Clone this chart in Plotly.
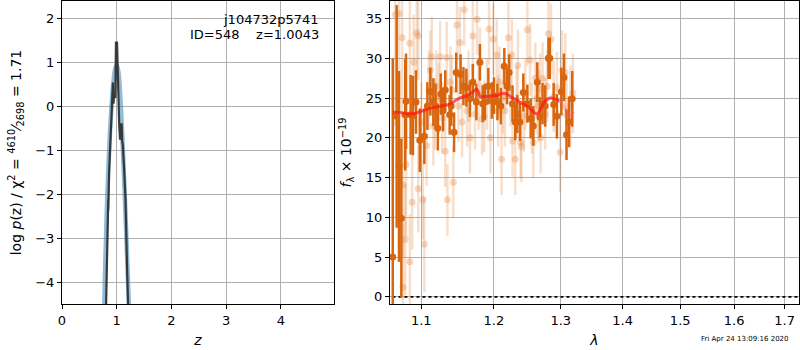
import plotly.graph_objects as go

# ---- Left panel: log p(z) ----
z_smooth = [0.76, 0.79, 0.82, 0.85, 0.88, 0.91, 0.94, 0.97, 1.00, 1.03, 1.06, 1.09, 1.12, 1.15, 1.18, 1.21, 1.24, 1.26]
logp_smooth = [-5.2, -3.6, -2.3, -1.3, -0.5, 0.1, 0.55, 0.85, 0.95, 0.8, 0.35, -0.35, -1.2, -2.1, -3.1, -4.1, -5.0, -5.8]

z_fine = [0.79, 0.800, 0.830, 0.845, 0.846, 0.860, 0.880, 0.895, 0.913, 0.930, 0.940, 0.955, 0.975, 0.986, 0.995, 1.005, 1.015, 1.030, 1.045, 1.060, 1.075, 1.090, 1.100, 1.110, 1.135, 1.160, 1.190, 1.210, 1.225]
logp_fine = [-5.5, -4.6, -3.0, -2.1, -2.35, -1.5, -1.0, -0.7, 0.05, 0.55, 0.07, 0.3, 0.2, 1.48, 1.0, 1.48, 0.7, 0.3, -0.4, -0.75, -0.4, -0.4, -0.8, -0.85, -1.4, -2.1, -3.7, -4.6, -5.3]

# ---- Right panel: spectrum ----
wave_a = [1.063, 1.068, 1.071, 1.074, 1.079, 1.080, 1.086, 1.089, 1.093, 1.098, 1.104, 1.108, 1.112, 1.116,
          1.119, 1.122, 1.126, 1.129, 1.132, 1.138, 1.140, 1.144, 1.147, 1.153, 1.157, 1.161, 1.166, 1.170,
          1.175, 1.180, 1.184, 1.187, 1.192, 1.197, 1.200, 1.205, 1.210, 1.215, 1.219, 1.222, 1.227, 1.231,
          1.234, 1.238, 1.243, 1.249, 1.254, 1.258, 1.264, 1.268, 1.272, 1.276, 1.281, 1.283, 1.289, 1.294,
          1.301, 1.305, 1.309, 1.313, 1.318]
flux_a = [5.0, 22.7, 16.4, 9.9, 22.9, 24.6, 22.9, 22.8, 24.5, 19.7, 20.2, 24.0, 25.8, 24.5,
          24.0, 21.2, 25.5, 23.4, 26.0, 22.9, 24.0, 20.7, 28.2, 28.0, 26.5, 26.3, 24.9, 27.0,
          24.5, 29.5, 24.3, 24.5, 26.5, 24.7, 25.3, 24.5, 24.0, 29.0, 26.5, 28.2, 24.3, 22.0,
          23.0, 22.0, 25.7, 24.3, 22.4, 21.5, 27.0, 22.6, 24.3, 24.0, 30.0, 30.0, 24.2, 22.7,
          25.8, 27.6, 20.4, 22.0, 24.9]
err_a = [25, 14, 12, 10, 7, 6, 5, 5, 4, 4, 3.5, 3, 3, 3,
         2.8, 2.8, 2.6, 2.6, 2.5, 2.5, 2.5, 2.5, 2.5, 2.5, 2.4, 2.4, 2.3, 2.3,
         2.3, 2.3, 2.3, 2.3, 2.3, 2.3, 2.3, 2.3, 2.3, 2.3, 2.3, 2.3, 2.3, 2.3,
         2.4, 2.4, 2.4, 2.4, 2.5, 2.5, 2.5, 2.5, 2.6, 2.6, 2.6, 2.6, 2.7, 2.8,
         3.0, 3.0, 3.2, 3.2, 3.5]

wave_b = [1.066, 1.071, 1.075, 1.076, 1.076, 1.079, 1.080, 1.085, 1.085, 1.088, 1.090, 1.094, 1.096, 1.096,
          1.100, 1.102, 1.104, 1.107, 1.110, 1.112, 1.114, 1.116, 1.118, 1.120, 1.123, 1.125, 1.128, 1.132,
          1.134, 1.135, 1.139, 1.141, 1.143, 1.148, 1.150, 1.152, 1.155, 1.158, 1.162, 1.164, 1.166, 1.170,
          1.173, 1.176, 1.178, 1.180, 1.183, 1.186, 1.190, 1.193, 1.195, 1.199, 1.204, 1.206, 1.208, 1.211,
          1.213, 1.216, 1.221, 1.224, 1.226, 1.227, 1.231, 1.233, 1.235, 1.239, 1.240, 1.244, 1.246, 1.249,
          1.253, 1.256, 1.258, 1.261, 1.263, 1.266, 1.268, 1.269, 1.272, 1.276, 1.279, 1.281, 1.285, 1.289,
          1.294, 1.299, 1.302, 1.307, 1.309, 1.315, 1.319]
flux_b = [35.5, 35.6, 32.6, 14.1, 1.2, 7.2, 16.6, 4.4, 31.9, 11.9, 29.5, 33.2, 32.8, 13.6,
          22.0, 12.2, 6.6, 19.0, 26.0, 28.5, 30.2, 21.5, 23.0, 26.5, 25.0, 30.2, 22.5, 18.3,
          30.1, 12.2, 27.0, 26.0, 14.4, 34.2, 24.0, 32.0, 22.0, 36.1, 23.4, 26.5, 20.0, 32.8,
          23.0, 34.9, 25.5, 29.4, 22.3, 22.7, 25.5, 33.7, 20.0, 32.4, 30.4, 23.4, 27.0, 17.3,
          25.0, 23.4, 32.6, 26.0, 30.4, 19.6, 17.3, 24.5, 29.1, 19.4, 18.9, 22.7, 25.5, 33.6,
          29.8, 22.5, 19.4, 27.5, 24.9, 24.0, 26.1, 20.0, 27.5, 23.0, 26.5, 33.1, 32.4, 25.2,
          26.3, 18.2, 28.5, 28.2, 22.9, 24.0, 25.6]
err_b = [14, 12, 10, 9, 8, 7, 9, 6, 7, 6, 6, 5.5, 5.5, 5.5,
         5, 5, 6, 5, 5, 5, 5, 5, 4.5, 4.5, 4.5, 4.5, 4.5, 4.5,
         4.5, 4.5, 4.5, 4.5, 4.5, 4.5, 4.5, 4.5, 4.5, 4.5, 4.5, 4.5, 4.5, 4.5,
         4.5, 4.5, 4.5, 4.5, 4.5, 4.5, 4.5, 4.5, 4.5, 4.5, 4.5, 4.5, 4.5, 4.5,
         4.5, 4.5, 4.5, 4.5, 4.5, 4.5, 4.5, 4.5, 4.5, 4.5, 4.5, 4.5, 4.5, 4.5,
         4.5, 4.5, 4.5, 4.5, 4.5, 4.5, 4.5, 4.5, 4.5, 4.5, 4.5, 4.5, 4.5, 4.5,
         4.5, 5, 5, 5, 5, 5, 5]

wave_model = [1.063, 1.072, 1.082, 1.092, 1.102, 1.112, 1.122, 1.132, 1.140, 1.146, 1.152, 1.158, 1.164,
              1.169, 1.173, 1.176, 1.178, 1.180, 1.186, 1.192, 1.198, 1.204, 1.209, 1.214, 1.219, 1.224,
              1.230, 1.236, 1.242, 1.248, 1.254, 1.259, 1.263, 1.266, 1.270, 1.275, 1.280, 1.285, 1.290,
              1.294, 1.298]
flux_model = [23.2, 23.2, 23.0, 23.1, 23.4, 23.7, 23.9, 24.1, 24.3, 24.7, 25.0, 25.2, 25.4,
              25.7, 26.0, 26.1, 25.7, 25.2, 25.2, 25.2, 25.3, 25.3, 25.5, 25.6, 25.5, 25.2,
              24.9, 24.6, 24.3, 24.0, 23.6, 23.2, 23.0, 23.2, 23.8, 24.5, 24.9, 25.0, 24.9,
              24.8, 24.6]
wave_model_end = [1.298, 1.302, 1.306, 1.310, 1.314, 1.318, 1.320]
flux_model_end = [24.6, 24.3, 23.8, 23.1, 22.7, 22.9, 23.3]

zero_wave = [1.055, 1.74]
zero_flux = [0, 0]

ORANGE = "rgb(216,102,14)"
ORANGE_L = "rgba(226,120,40,0.28)"
ORANGE_LB = "rgba(226,120,40,0.24)"

fig = go.Figure()

# left panel
fig.add_trace(go.Scatter(x=z_smooth, y=logp_smooth, mode="lines",
                         line=dict(color="rgba(31,119,180,0.5)", width=4.5, shape="spline"),
                         xaxis="x", yaxis="y", showlegend=False))
fig.add_trace(go.Scatter(x=z_fine, y=logp_fine, mode="lines",
                         line=dict(color="rgba(50,50,50,0.95)", width=2.2),
                         xaxis="x", yaxis="y", showlegend=False))

# right panel
fig.add_trace(go.Scatter(x=zero_wave, y=zero_flux, mode="lines",
                         line=dict(color="black", width=1.6, dash="dot"),
                         xaxis="x2", yaxis="y2", showlegend=False))
fig.add_trace(go.Scatter(x=wave_b, y=flux_b, mode="markers",
                         marker=dict(color=ORANGE_L, size=7, line=dict(width=0)),
                         error_y=dict(type="data", array=err_b, color=ORANGE_LB, thickness=2.5, width=0),
                         xaxis="x2", yaxis="y2", showlegend=False))
fig.add_trace(go.Scatter(x=wave_a, y=flux_a, mode="markers",
                         marker=dict(color=ORANGE, size=7, line=dict(width=0)),
                         error_y=dict(type="data", array=err_a, color=ORANGE, thickness=2.5, width=0),
                         xaxis="x2", yaxis="y2", showlegend=False))
fig.add_trace(go.Scatter(x=wave_model, y=flux_model, mode="lines",
                         line=dict(color="rgba(255,20,20,0.7)", width=3, shape="spline"),
                         xaxis="x2", yaxis="y2", showlegend=False))
fig.add_trace(go.Scatter(x=wave_model_end, y=flux_model_end, mode="lines",
                         line=dict(color="rgba(255,90,110,0.35)", width=3, shape="spline"),
                         xaxis="x2", yaxis="y2", showlegend=False))

axis_common = dict(showline=True, linecolor="black", linewidth=1, mirror=True,
                   showgrid=True, gridcolor="#b0b0b0", gridwidth=1,
                   ticks="outside", ticklen=4, tickcolor="black",
                   tickfont=dict(family="DejaVu Sans", size=13, color="black"),
                   zeroline=False, automargin=False)

fig.update_layout(
    width=800, height=350,
    margin=dict(l=0, r=0, t=0, b=0),
    paper_bgcolor="white", plot_bgcolor="white",
    font=dict(family="DejaVu Sans", color="black"),
    xaxis=dict(domain=[0.0775, 0.4175], range=[0, 4.97], tickvals=[0, 1, 2, 3, 4],
               title=dict(text="<i>z</i>", font=dict(size=14), standoff=8), anchor="y", **axis_common),
    yaxis=dict(domain=[0.1314, 0.997], range=[-4.48, 2.4], tickvals=[-4, -3, -2, -1, 0, 1, 2],
               ticktext=["\u22124", "\u22123", "\u22122", "\u22121", "0", "1", "2"],
               title=dict(text="log <i>p</i>(z) / \u03c7<sup>2</sup> = <sup>4610</sup>\u2044<sub>2698</sub> = 1.71",
                          font=dict(size=14), standoff=10), anchor="x", **axis_common),
    xaxis2=dict(domain=[0.4875, 0.99875], type="log", range=[0.02510, 0.2379],
                tickvals=[1.1, 1.2, 1.3, 1.4, 1.5, 1.6, 1.7],
                ticktext=["1.1", "1.2", "1.3", "1.4", "1.5", "1.6", "1.7"],
                title=dict(text="<i>\u03bb</i>", font=dict(size=14), standoff=8), anchor="y2", **axis_common),
    yaxis2=dict(domain=[0.1314, 0.997], range=[-0.9, 37.2], tickvals=[0, 5, 10, 15, 20, 25, 30, 35],
                title=dict(text="<i>f</i><sub>\u03bb</sub> \u00d7 10<sup>\u221219</sup>",
                           font=dict(size=14), standoff=10), anchor="x2", **axis_common),
    annotations=[
        dict(text="j104732p5741", xref="paper", yref="paper", x=0.401, y=0.943,
             xanchor="right", yanchor="middle", showarrow=False, font=dict(size=13)),
        dict(text="ID=548    z=1.0043", xref="paper", yref="paper", x=0.401, y=0.9,
             xanchor="right", yanchor="middle", showarrow=False, font=dict(size=13)),
        dict(text="Fri Apr 24 13:09:16 2020", xref="paper", yref="paper", x=0.931, y=0.031,
             xanchor="center", yanchor="middle", showarrow=False, font=dict(size=7)),
    ],
)

fig.write_html("out.html", config={"displayModeBar": False},
               post_script="document.body.style.margin='0';document.body.style.overflow='hidden';")
